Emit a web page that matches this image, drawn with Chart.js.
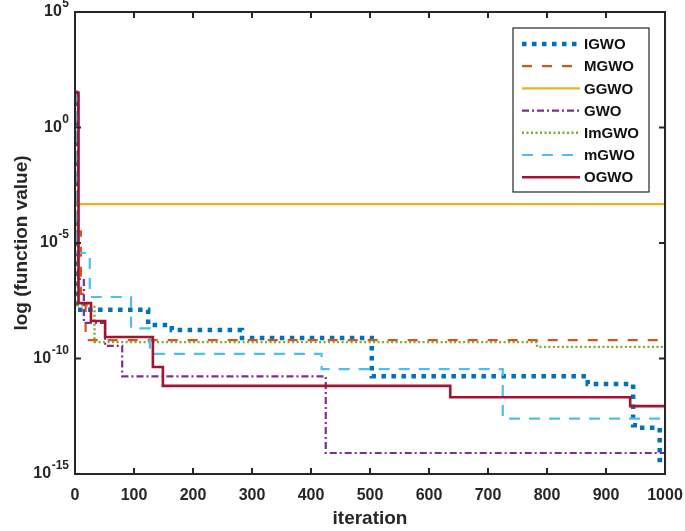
<!DOCTYPE html>
<html>
<head>
<meta charset="utf-8">
<script src="https://cdn.jsdelivr.net/npm/chart.js@4/dist/chart.umd.min.js"></script>
<style>
  html, body { margin: 0; padding: 0; background: #fff; }
  #wrap { width: 685px; height: 531px; position: relative; }
</style>
</head>
<body>
<div id="wrap"><canvas id="convChart"></canvas></div>
<script>
// convergence curves (step points: iteration where the value changes)
const seriesNames = ['IGWO', 'MGWO', 'GGWO', 'GWO', 'ImGWO', 'mGWO', 'OGWO'];

const iterIGWO = [0, 2, 124, 164, 283, 503, 869, 946, 955, 991, 1000];
const valIGWO  = [3.2e1, 1.3e-8, 2.8e-9, 1.7e-9, 7.8e-10, 1.7e-11, 7.9e-12, 1.3e-13, 1.0e-13, 4.0e-15, 4.0e-15];

const iterMGWO = [0, 1, 10, 18, 1000];
const valMGWO  = [3.2e1, 3.2e-5, 6.3e-8, 6.3e-10, 6.3e-10];

const iterGGWO = [0, 1000];
const valGGWO  = [4.8e-4, 4.8e-4];

const iterGWO = [0, 5, 15, 51, 80, 425, 1000];
const valGWO  = [3.2e1, 2.8e-7, 3.5e-9, 3.5e-10, 1.7e-11, 8.1e-15, 8.1e-15];

const iterImGWO = [0, 5, 33, 783, 1000];
const valImGWO  = [5.0e-4, 2.0e-8, 5.1e-10, 3.2e-10, 3.2e-10];

const iterMGWO2 = [0, 2, 25, 95, 127, 418, 725, 1000];
const valMGWO2  = [3.2e1, 3.7e-6, 4.6e-8, 2.0e-9, 1.6e-10, 3.5e-11, 2.5e-13, 2.5e-13];

const iterOGWO = [0, 6, 27, 51, 132, 149, 636, 941, 1000];
const valOGWO  = [3.2e1, 2.5e-8, 4.2e-9, 8.5e-10, 4.3e-11, 6.5e-12, 2.1e-12, 8.7e-13, 8.7e-13];

const xTicks = [0, 100, 200, 300, 400, 500, 600, 700, 800, 900, 1000];
const yTickExp = [5, 0, -5, -10, -15];

const allIters = [iterIGWO, iterMGWO, iterGGWO, iterGWO, iterImGWO, iterMGWO2, iterOGWO];
const allVals = [valIGWO, valMGWO, valGGWO, valGWO, valImGWO, valMGWO2, valOGWO];

// matlab-ish line styles
const styles = [
  { color: '#0072BD', width: 4.5, dash: [4.5, 5.5] },
  { color: '#D95319', width: 2.2, dash: [10, 10] },
  { color: '#EDB120', width: 2.2, dash: [] },
  { color: '#7E2F8E', width: 2.2, dash: [7, 3, 2, 3] },
  { color: '#77AC30', width: 2.4, dash: [2, 2.5] },
  { color: '#4DBEEE', width: 2.2, dash: [11, 9] },
  { color: '#A2142F', width: 2.6, dash: [] }
];

const FONT = "'Liberation Sans', Arial, Helvetica, sans-serif";
const AXIS = '#262626';

// stepped 'before' in chart.js = hold the value until the next point
const datasets = seriesNames.map((name, i) => ({
  label: name,
  data: allIters[i].map((x, k) => ({ x: x, y: allVals[i][k] })),
  borderColor: styles[i].color,
  borderWidth: styles[i].width,
  borderDash: styles[i].dash,
  borderCapStyle: 'butt',
  borderJoinStyle: 'miter',
  pointRadius: 0,
  fill: false,
  tension: 0,
  stepped: 'before',
  order: seriesNames.length - i   // last series on top, like matlab
}));

// box, inward ticks, y labels with exponents, legend
const decorPlugin = {
  id: 'decor',
  afterDraw(chart) {
    const ctx = chart.ctx;
    const a = chart.chartArea;
    const xs = chart.scales.x, ys = chart.scales.y;
    const tl = 6;
    ctx.save();
    ctx.strokeStyle = AXIS;
    ctx.lineWidth = 2;
    ctx.setLineDash([]);
    ctx.strokeRect(a.left, a.top, a.right - a.left, a.bottom - a.top);
    ctx.beginPath();
    xTicks.forEach(t => {
      const px = xs.getPixelForValue(t);
      ctx.moveTo(px, a.bottom); ctx.lineTo(px, a.bottom - tl);
      ctx.moveTo(px, a.top); ctx.lineTo(px, a.top + tl);
    });
    yTickExp.forEach(e => {
      const py = ys.getPixelForValue(Math.pow(10, e));
      ctx.moveTo(a.left, py); ctx.lineTo(a.left + tl, py);
      ctx.moveTo(a.right, py); ctx.lineTo(a.right - tl, py);
    });
    ctx.stroke();

    // y tick labels 10^n
    ctx.fillStyle = AXIS;
    ctx.textBaseline = 'middle';
    ctx.textAlign = 'right';
    yTickExp.forEach(e => {
      const py = ys.getPixelForValue(Math.pow(10, e));
      const expTxt = e < 0 ? '-' + Math.abs(e) : String(e);
      ctx.font = 'bold 12px ' + FONT;
      const ew = ctx.measureText(expTxt).width;
      const right = a.left - 6;
      ctx.fillText(expTxt, right, py - 8);
      ctx.font = 'bold 16px ' + FONT;
      ctx.fillText('10', right - ew - 0.5, py);
    });

    // legend box
    const lx = 513, ly = 28, lw = 136, lh = 164;
    ctx.fillStyle = '#fff';
    ctx.fillRect(lx, ly, lw, lh);
    ctx.strokeStyle = AXIS;
    ctx.lineWidth = 1.2;
    ctx.strokeRect(lx, ly, lw, lh);
    ctx.font = 'bold 15px ' + FONT;
    ctx.textAlign = 'left';
    chart.data.datasets.forEach((ds, i) => {
      const ry = 44 + i * 22.2;
      ctx.beginPath();
      ctx.strokeStyle = ds.borderColor;
      ctx.lineWidth = ds.borderWidth;
      ctx.lineCap = 'butt';
      ctx.setLineDash(ds.borderDash);
      ctx.moveTo(522, ry);
      ctx.lineTo(580, ry);
      ctx.stroke();
      ctx.setLineDash([]);
      ctx.fillStyle = '#111';
      ctx.fillText(ds.label, 584, ry + 1);
    });
    ctx.restore();
  }
};

new Chart(document.getElementById('convChart'), {
  type: 'line',
  data: { datasets: datasets },
  options: {
    responsive: true,
    maintainAspectRatio: false,
    animation: false,
    devicePixelRatio: 1,
    layout: { padding: { top: 12, right: 20, bottom: 0, left: 0 } },
    plugins: {
      legend: { display: false },
      tooltip: { enabled: false }
    },
    scales: {
      x: {
        type: 'linear',
        min: 0,
        max: 1000,
        grid: { display: false, drawTicks: false },
        border: { display: false },
        ticks: {
          stepSize: 100,
          color: AXIS,
          padding: 12,
          maxRotation: 0,
          font: { family: FONT, size: 16, weight: 'bold' },
          callback: v => String(v)
        },
        title: {
          display: true,
          text: 'iteration',
          color: AXIS,
          padding: { top: 0, bottom: 1 },
          font: { family: FONT, size: 19, weight: 'bold' }
        },
        afterFit: s => { s.height = 57; s.paddingLeft = 0; s.paddingRight = 0; }
      },
      y: {
        type: 'logarithmic',
        min: 1e-15,
        max: 1e5,
        grid: { display: false, drawTicks: false },
        border: { display: false },
        ticks: { display: false },
        title: {
          display: true,
          text: 'log (function value)',
          color: AXIS,
          padding: { top: 10, bottom: 0 },
          font: { family: FONT, size: 19, weight: 'bold' }
        },
        afterFit: s => { s.width = 75; }
      }
    }
  },
  plugins: [decorPlugin]
});
</script>
</body>
</html>
